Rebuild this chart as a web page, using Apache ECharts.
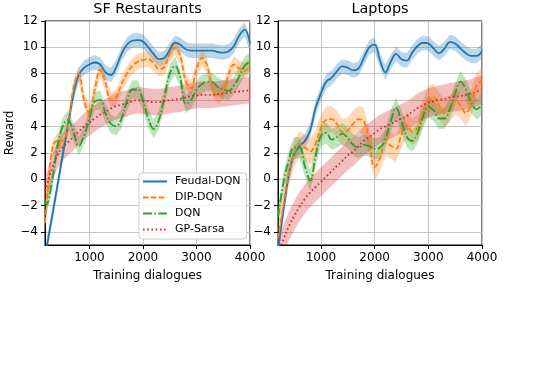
<!DOCTYPE html>
<html>
<head>
<meta charset="utf-8">
<script src="https://cdn.jsdelivr.net/npm/echarts@6/dist/echarts.min.js"></script>
<style>
html, body { margin: 0; padding: 0; background: #fff; }
#chart { width: 541px; height: 366px; }
</style>
</head>
<body>
<div id="chart"></div>
<script>
// x positions (training dialogues)
var sfX = [170, 200, 300, 400, 500, 600, 700, 800, 900, 1000, 1100, 1200, 1300, 1400, 1500, 1600, 1700, 1800, 1900, 2000,
  2100, 2200, 2300, 2400, 2500, 2600, 2700, 2800, 2900, 3000, 3100, 3200, 3300, 3400, 3500, 3600, 3700, 3800, 3900, 4000];
var lpX = [200, 300, 400, 500, 600, 700, 800, 900, 1000, 1100, 1200, 1300, 1400, 1500, 1600, 1700, 1800, 1900, 2000,
  2100, 2200, 2300, 2400, 2500, 2600, 2700, 2800, 2900, 3000, 3100, 3200, 3300, 3400, 3500, 3600, 3700, 3800, 3900, 4000];

// SF Restaurants
var sfFeudal = [-5.9, -5.2, -2.9, -0.55, 1.8, 4.1, 6.4, 7.9, 8.45, 8.7, 8.85, 8.7, 8.1, 7.9, 8.5, 9.5, 10.2, 10.5, 10.55, 10.45,
  10.0, 9.5, 9.1, 9.2, 9.8, 10.35, 10.2, 9.85, 9.75, 9.75, 9.75, 9.75, 9.75, 9.65, 9.6, 9.7, 10.1, 10.9, 11.35, 10.3];
var sfDip = [-3.3, -2.0, 2.2, 2.9, 2.9, 4.0, 6.9, 8.0, 6.0, 5.0, 6.8, 8.3, 7.3, 6.0, 6.2, 7.2, 8.0, 8.6, 8.9, 9.05,
  9.1, 8.8, 8.35, 8.5, 9.5, 10.0, 9.3, 7.4, 6.9, 8.3, 9.2, 8.6, 6.9, 6.3, 6.6, 7.9, 8.7, 8.4, 8.2, 8.6];
var sfDqn = [-1.6, -1.9, -0.2, 2.4, 4.0, 4.5, 3.6, 2.5, 3.3, 4.6, 5.9, 6.0, 5.0, 4.2, 4.0, 4.6, 5.9, 6.8, 6.8, 5.9,
  4.6, 3.8, 4.5, 6.2, 8.0, 8.6, 7.6, 5.7, 6.0, 6.8, 7.2, 7.4, 7.35, 7.0, 6.8, 6.7, 7.1, 7.8, 8.6, 8.9];
var sfGp = [-0.9, -0.5, 0.8, 1.8, 2.4, 2.8, 3.2, 3.6, 4.0, 4.3, 4.6, 4.9, 5.1, 5.35, 5.55, 5.65, 5.75, 5.9, 6.0, 5.95,
  5.9, 5.85, 5.85, 5.9, 6.0, 6.05, 6.1, 6.2, 6.3, 6.35, 6.4, 6.4, 6.4, 6.45, 6.5, 6.55, 6.6, 6.65, 6.7, 6.75];

// Laptops
var lpFeudal = [-5.4, -2.4, 0.3, 1.9, 2.5, 2.9, 3.7, 5.4, 6.5, 7.4, 7.7, 8.2, 8.55, 8.45, 8.25, 8.4, 9.2, 10.0, 10.2,
  9.0, 8.1, 8.9, 9.5, 9.1, 9.0, 9.6, 10.1, 10.35, 10.3, 9.9, 9.55, 9.9, 10.4, 10.3, 9.9, 9.55, 9.35, 9.35, 9.7];
var lpDip = [-4.5, -2.0, 0.5, 1.9, 2.65, 2.4, 2.1, 2.7, 3.9, 4.5, 4.55, 4.15, 3.55, 3.7, 4.2, 4.55, 4.4, 2.8, 0.9,
  1.6, 2.75, 2.55, 2.3, 3.4, 4.1, 3.6, 3.9, 5.0, 6.1, 6.2, 5.6, 5.0, 5.3, 5.9, 5.6, 5.0, 5.8, 7.1, 7.5];
var lpDqn = [-2.9, -0.3, 1.4, 2.4, 2.4, 1.0, -0.1, 1.7, 3.3, 3.5, 3.0, 3.2, 3.45, 3.1, 2.6, 2.4, 2.6, 2.5, 2.3,
  2.4, 3.0, 4.4, 5.4, 4.4, 3.2, 2.9, 3.5, 4.7, 5.5, 5.2, 4.6, 4.6, 5.3, 6.5, 7.4, 6.8, 5.8, 5.3, 5.7];
var lpGp = [-5.6, -4.6, -3.6, -2.8, -2.1, -1.5, -1.0, -0.6, -0.2, 0.2, 0.6, 1.0, 1.4, 1.8, 2.1, 2.5, 2.9, 3.2, 3.5,
  3.8, 4.0, 4.2, 4.4, 4.6, 4.8, 5.1, 5.4, 5.6, 5.8, 5.9, 6.0, 6.1, 6.2, 6.25, 6.3, 6.4, 6.5, 6.65, 6.8];

// half width of the shaded band
var sfSpread = [0.55, 0.6, 0.7, 1.0];
var lpSpread = [0.55, 1.0, 0.8, 1.1];

var names = ['Feudal-DQN', 'DIP-DQN', 'DQN', 'GP-Sarsa'];
var colors = ['#1f77b4', '#ff7f0e', '#2ca02c', '#d62728'];
var bandColors = ['rgba(31,119,180,0.3)', 'rgba(255,127,14,0.3)', 'rgba(44,160,44,0.3)', 'rgba(214,39,40,0.3)'];
var dashes = ['solid', [5.5, 2.4], [9, 2.4, 1.5, 2.4], [1.6, 2.6]];
var xTicks = [1000, 2000, 3000, 4000];
var yTicks = [-4, -2, 0, 2, 4, 6, 8, 10, 12];

var font = 'DejaVu Sans';
var chart = echarts.init(document.getElementById('chart'), null, { renderer: 'canvas' });

function minus(v) { return String(v).replace('-', '\u2212'); }

function xAxis(idx, min) {
  return {
    type: 'value', gridIndex: idx, min: min, max: 4000, splitNumber: 4,
    name: 'Training dialogues', nameLocation: 'middle', nameGap: 25,
    nameTextStyle: { fontFamily: font, fontSize: 12, color: '#000' },
    axisLine: { show: true, onZero: false, lineStyle: { color: '#000', width: 1 } },
    axisTick: { show: true, length: 4, customValues: xTicks, lineStyle: { color: '#000' } },
    axisLabel: { customValues: xTicks, fontFamily: font, fontSize: 12, color: '#000', margin: 7,
      formatter: function (v) { return String(v); } },
    splitLine: { show: true, lineStyle: { color: '#c4c4c4', width: 1 } }
  };
}
function yAxis(idx, withName) {
  return {
    type: 'value', gridIndex: idx, min: -5, max: 12, splitNumber: 8,
    name: withName ? 'Reward' : '', nameLocation: 'middle', nameGap: 29,
    nameTextStyle: { fontFamily: font, fontSize: 12, color: '#000' },
    axisLine: { show: true, onZero: false, lineStyle: { color: '#000', width: 1 } },
    axisTick: { show: true, length: 4, customValues: yTicks, lineStyle: { color: '#000' } },
    axisLabel: { customValues: yTicks, fontFamily: font, fontSize: 12, color: '#000', margin: 7, formatter: minus },
    splitLine: { show: true, lineStyle: { color: '#c4c4c4', width: 1 } }
  };
}

var series = [];
function addPanel(idx, xs, data, spread) {
  data.forEach(function (vals, k) {
    var pts = [];
    for (var i = 0; i < xs.length; i++) pts.push([xs[i], vals[i] - spread[k], vals[i] + spread[k]]);
    series.push({
      type: 'custom', name: 'band' + idx + '_' + k, xAxisIndex: idx, yAxisIndex: idx,
      data: pts, encode: { x: 0, y: [1, 2] }, clip: true, silent: true, z: 1,
      renderItem: function (params, api) {
        if (params.dataIndex !== 0) return null;
        var poly = [];
        for (var i = 0; i < pts.length; i++) poly.push(api.coord([pts[i][0], pts[i][2]]));
        for (var j = pts.length - 1; j >= 0; j--) poly.push(api.coord([pts[j][0], pts[j][1]]));
        return { type: 'polygon', shape: { points: poly }, style: { fill: bandColors[k] } };
      }
    });
  });
  data.forEach(function (vals, k) {
    var line = [];
    for (var i = 0; i < xs.length; i++) line.push([xs[i], vals[i]]);
    series.push({
      type: 'line', name: names[k], xAxisIndex: idx, yAxisIndex: idx, data: line,
      smooth: 0.4, symbol: 'none', color: colors[k],
      lineStyle: { color: colors[k], width: 1.8, type: dashes[k] }, z: 3
    });
  });
}
addPanel(0, sfX, [sfFeudal, sfDip, sfDqn, sfGp], sfSpread);
addPanel(1, lpX, [lpFeudal, lpDip, lpDqn, lpGp], lpSpread);

chart.setOption({
  animation: false,
  backgroundColor: '#fff',
  title: [
    { text: 'SF Restaurants', left: 147.5, top: 2, textAlign: 'center', padding: 0,
      textStyle: { fontFamily: font, fontSize: 14.4, fontWeight: 'normal', color: '#000' } },
    { text: 'Laptops', left: 380, top: 2, textAlign: 'center', padding: 0,
      textStyle: { fontFamily: font, fontSize: 14.4, fontWeight: 'normal', color: '#000' } }
  ],
  grid: [
    { left: 45, top: 21, width: 205, height: 224, show: true, borderColor: '#000', borderWidth: 1, backgroundColor: 'transparent' },
    { left: 278, top: 21, width: 204, height: 224, show: true, borderColor: '#000', borderWidth: 1, backgroundColor: 'transparent' }
  ],
  legend: {
    data: names, orient: 'vertical', left: 139, top: 173, padding: [3, 6, 4, 3],
    itemWidth: 24, itemHeight: 10, itemGap: 5,
    itemStyle: { opacity: 0 },
    backgroundColor: 'rgba(255,255,255,0.85)', borderColor: '#ccc', borderWidth: 1, borderRadius: 3,
    textStyle: { fontFamily: font, fontSize: 11, color: '#000', padding: [0, 0, 0, 3] }
  },
  xAxis: [xAxis(0, 170), xAxis(1, 200)],
  yAxis: [yAxis(0, true), yAxis(1, false)],
  series: series
});
</script>
</body>
</html>
